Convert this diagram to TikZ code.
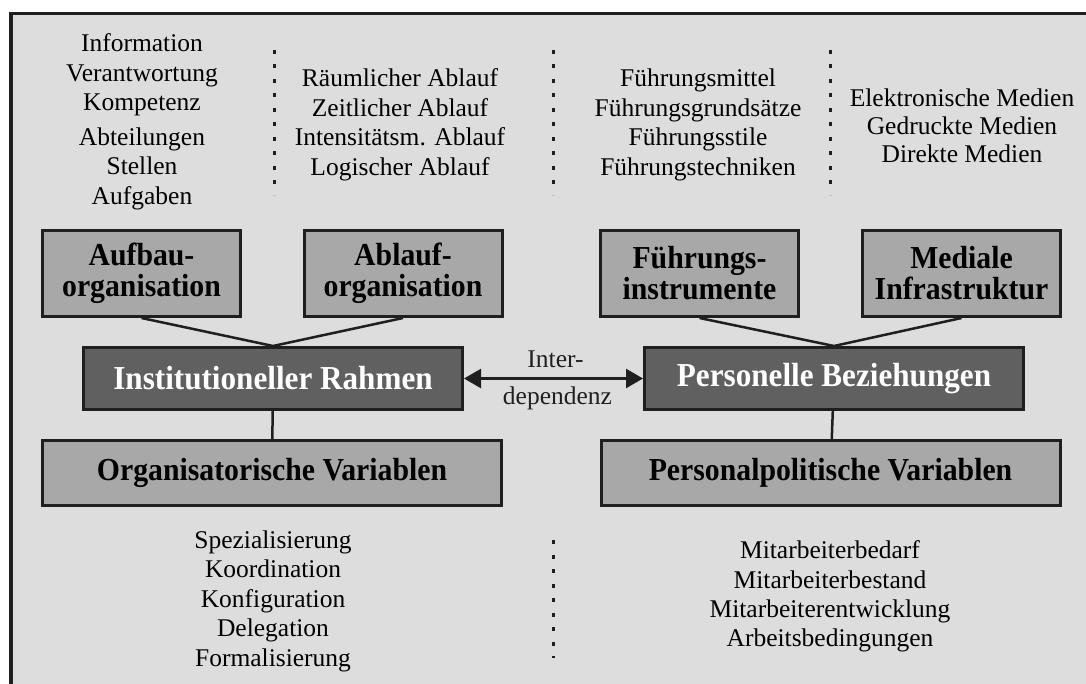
\documentclass[tikz,border=0pt]{standalone}
\usepackage{fontspec}
\setmainfont{Liberation Serif}
\newfontfamily\boxfont{Liberation Serif}[FakeStretch=0.93]
\usetikzlibrary{arrows.meta,positioning}
\definecolor{paper}{gray}{0.865}
\definecolor{boxlight}{gray}{0.66}
\definecolor{boxdark}{gray}{0.375}
\definecolor{ink}{gray}{0.12}

\begin{document}
\begin{tikzpicture}[x=1pt,y=-1pt,
    every node/.style={font=\fontsize{25.5}{29.5}\selectfont},
    light/.style={draw=ink,line width=3pt,fill=boxlight,inner sep=0pt,align=center,
      font=\boxfont\fontsize{32}{31}\selectfont\bfseries},
    dark/.style={light,fill=boxdark,text=white,font=\boxfont\fontsize{33.5}{33}\selectfont\bfseries},
    list/.style={align=center,inner sep=0pt},
    sep/.style={ink,line width=3pt,dash pattern=on 4pt off 10.5pt},
    conn/.style={ink,line width=2.5pt}]
    \useasboundingbox (0,0) rectangle (1086,684);
    \clip (0,0) rectangle (1086,684);
    \draw[ink,line width=3.5pt,fill=paper] (11,13.5) rectangle (1120,720);

    \node[light,minimum width=198pt,minimum height=86pt] (aufbau) at (141.5,273.5) {Aufbau-\\organisation};
    \node[light,minimum width=198pt,minimum height=86pt] (ablauf) at (403,273.5) {Ablauf-\\organisation};
    \node[light,minimum width=198pt,minimum height=86pt] (fuehrung) at (699.5,273.5) {Führungs-\\instrumente};
    \node[light,minimum width=198pt,minimum height=86pt] (medien) at (961.5,273.5) {Mediale\\Infrastruktur};
    \node[dark,minimum width=379pt,minimum height=62pt] (rahmen) at (273,378.5) {Institutioneller Rahmen};
    \node[dark,minimum width=379pt,minimum height=62pt] (beziehung) at (834,378.5) {Personelle Beziehungen};
    \node[light,minimum width=459pt,minimum height=65pt] (orgvar) at (272,473) {Organisatorische Variablen};
    \node[light,minimum width=459pt,minimum height=65pt] (persvar) at (830.5,473) {Personalpolitische Variablen};

    \node[list] (aufbaulist) at (142,122) {Information\\Verantwortung\\Kompetenz\\[5pt]Abteilungen\\Stellen\\Aufgaben};
    \node[list] (ablauflist) at (400,125) {Räumlicher Ablauf\\Zeitlicher Ablauf\\Intensitätsm. Ablauf\\Logischer Ablauf};
    \node[list] (fuehrunglist) at (698,125) {Führungsmittel\\Führungsgrundsätze\\Führungsstile\\Führungstechniken};
    \node[list,font=\fontsize{25.5}{28}\selectfont] (medienlist) at (962,126) {Elektronische Medien\\Gedruckte Medien\\Direkte Medien};
    \node[list] (orglist) at (273,601) {Spezialisierung\\Koordination\\Konfiguration\\Delegation\\Formalisierung};
    \node[list,font=\fontsize{25.5}{29.3}\selectfont] (perslist) at (830,596.5) {Mitarbeiterbedarf\\Mitarbeiterbestand\\Mitarbeiterentwicklung\\Arbeitsbedingungen};

    \draw[sep] (274,50) -- (274,195);
    \draw[sep] (553,50) -- (553,195);
    \draw[sep] (830,50) -- (830,195);
    \draw[sep] (553,540) -- (553,658);

    \draw[conn] (aufbau.south) -- (rahmen.north);
    \draw[conn] (ablauf.south) -- (rahmen.north);
    \draw[conn] (fuehrung.south) -- (beziehung.north);
    \draw[conn] (medien.south) -- (beziehung.north);
    \draw[conn] (rahmen) -- (orgvar);
    \draw[conn] (beziehung) -- (persvar);
    \draw[conn,{Triangle[length=17pt,width=19pt]}-{Triangle[length=17pt,width=19pt]}] (rahmen) --
      node[above=6pt,xshift=2pt] (inter) {Inter-} node[below=4pt,xshift=4pt] (dep) {dependenz} (beziehung);
\end{tikzpicture}
\end{document}
